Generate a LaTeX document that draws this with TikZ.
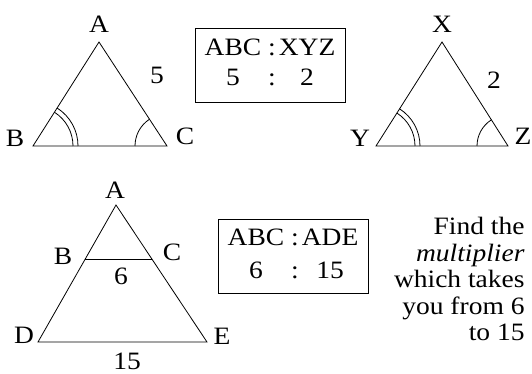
\documentclass[tikz,border=0pt]{standalone}
\usepackage{fontspec}
\setmainfont{Liberation Serif}[FakeStretch=1.1]
\usetikzlibrary{calc,positioning}

\begin{document}
\begin{tikzpicture}[x=1pt,y=1pt,line width=0.8pt,
  lbl/.style={font=\fontsize{25}{30}\selectfont, inner sep=0pt},
  ratiobox/.style={draw, line width=0.8pt, minimum width=150pt, minimum height=74pt,
    inner sep=0pt, font=\fontsize{25}{30}\selectfont}]
  \useasboundingbox (0,0) rectangle (532,374);
  % Top left: triangle ABC with marked angles
  \coordinate (A1) at (99,332);
  \coordinate (B1) at (33,228);
  \coordinate (C1) at (167,228);
  \draw (A1) -- (B1) -- (C1) -- cycle;
  \draw ([shift={(0:40)}]B1) arc (0:57.6:40);
  \draw ([shift={(0:45)}]B1) arc (0:57.6:45);
  \draw ([shift={(180:32)}]C1) arc (180:123.2:32);
  \node[lbl] (lA1) at (99,350) {A};
  \node[lbl] (lB1) at (15,236) {B};
  \node[lbl] (lC1) at (185,238) {C};
  \node[lbl] (s1) at (157,299) {5};
  % Ratio box, top
  \node[ratiobox] (box1) at (270,309)
    {\begin{tabular}{@{}c@{\hspace{7pt}}c@{\hspace{3pt}}c@{}}ABC & : & XYZ\\ 5 & : & 2\end{tabular}};
  % Top right: triangle XYZ
  \coordinate (X2) at (442,332);
  \coordinate (Y2) at (376,228);
  \coordinate (Z2) at (508,228);
  \draw (X2) -- (Y2) -- (Z2) -- cycle;
  \draw ([shift={(0:39)}]Y2) arc (0:57.6:39);
  \draw ([shift={(0:44)}]Y2) arc (0:57.6:44);
  \draw ([shift={(180:31)}]Z2) arc (180:122.4:31);
  \node[lbl] (lX2) at (442,350) {X};
  \node[lbl] (lY2) at (360,236) {Y};
  \node[lbl] (lZ2) at (523,238) {Z};
  \node[lbl] (s2) at (494,294) {2};
  % Bottom left: triangle ADE cut by BC
  \coordinate (A3) at (116,169);
  \coordinate (D3) at (38,32);
  \coordinate (E3) at (207,32);
  \coordinate (B3) at ($(A3)!0.4!(D3)$);
  \coordinate (C3) at ($(A3)!0.4!(E3)$);
  \draw (A3) -- (D3) -- (E3) -- cycle;
  \draw (B3) -- (C3);
  \node[lbl] (lA3) at (115,184) {A};
  \node[lbl] (lB3) at (63,118) {B};
  \node[lbl] (lC3) at (172,122) {C};
  \node[lbl] (lD3) at (24,39) {D};
  \node[lbl] (lE3) at (222,38) {E};
  \node[lbl] (s3) at (121,98) {6};
  \node[lbl] (s4) at (127,13) {15};
  % Ratio box, bottom
  \node[ratiobox] (box2) at (293,118)
    {\begin{tabular}{@{}c@{\hspace{7pt}}c@{\hspace{3pt}}c@{}}ABC & : & ADE\\[3pt] 6 & : & 15\end{tabular}};
  % Hint text
  \node[font=\fontsize{25}{26.5}\selectfont, align=right, inner sep=0pt, anchor=north east]
    (hint) at (525,157) {Find the\\ \textit{multiplier}\\ which takes\\ you from 6\\ to 15};
\end{tikzpicture}
\end{document}
